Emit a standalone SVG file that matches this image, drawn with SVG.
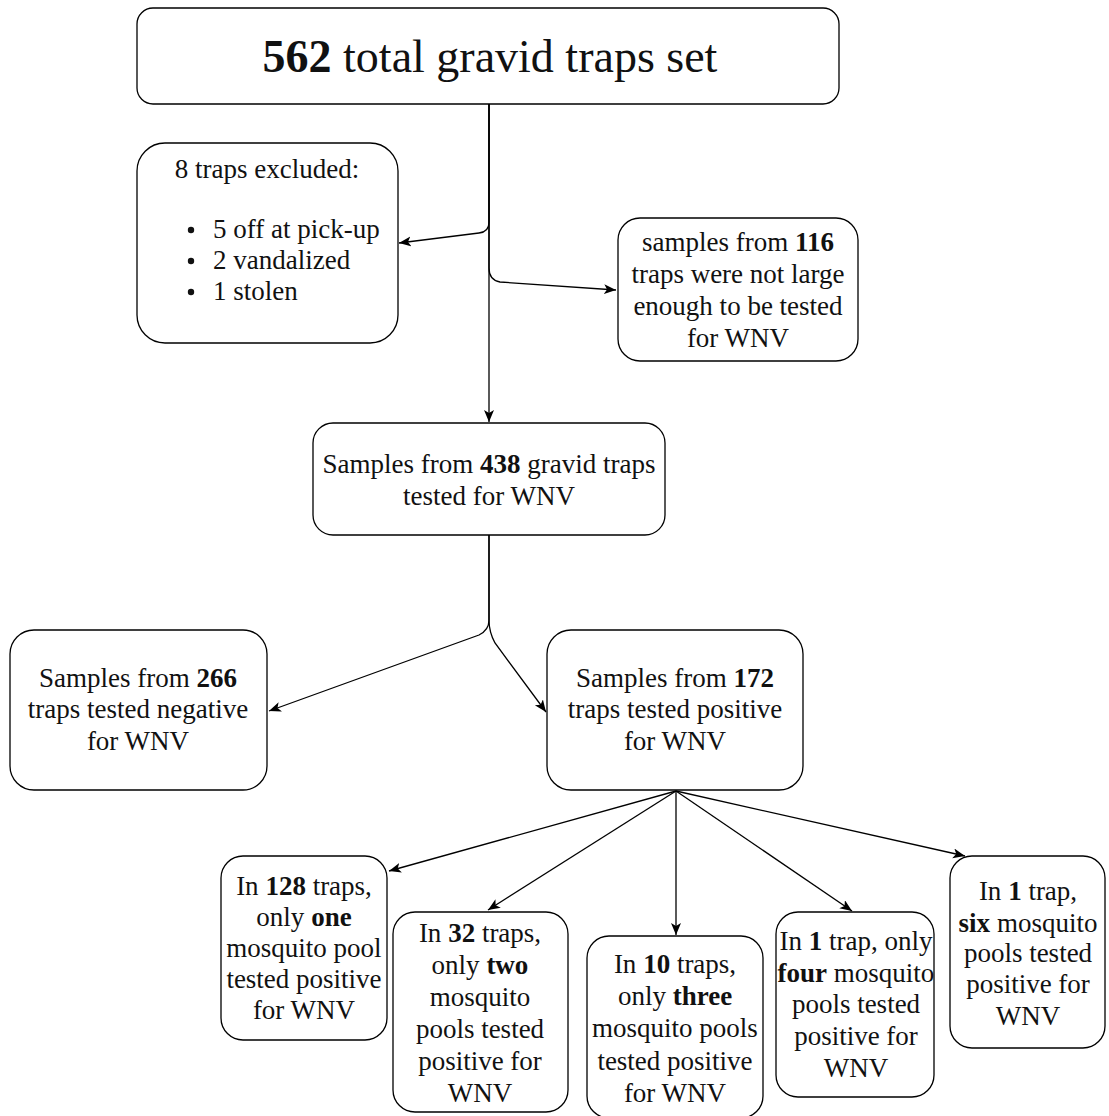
<svg xmlns="http://www.w3.org/2000/svg" width="1109" height="1116" viewBox="0 0 1109 1116">
<style>
.box{fill:#fff;stroke:#000;stroke-width:1.3}
.t{font-family:"Liberation Serif","Times New Roman",serif;font-size:27px;fill:#111;text-anchor:middle}
.tl{font-family:"Liberation Serif","Times New Roman",serif;font-size:27px;fill:#111}
.b{font-weight:bold}
.edge{fill:none;stroke:#000;stroke-width:1.3;marker-end:url(#arr)}
</style>
<defs>
<marker id="arr" markerUnits="userSpaceOnUse" markerWidth="14" markerHeight="12" refX="12" refY="5" orient="auto">
<path d="M0,0 L12,5 L0,10 L3,5 z" fill="#000"/>
</marker>
</defs>
<rect width="1109" height="1116" fill="#fff"/>
<g id="connectors">
<path class="edge" d="M489,104 L489,422"/>
<path class="edge" d="M489,104 L489,222 Q489,232 479,233 L399,243"/>
<path class="edge" d="M489,104 L489,268 Q489,280 500,282 L616,290"/>
<path class="edge" d="M489,535 L489,620 Q489,630 479,635 L269,711"/>
<path class="edge" d="M489,535 L489,620 Q489,632 495,643 L546,712"/>
<path class="edge" d="M676,791 L389,871"/>
<path class="edge" d="M676,791 L488,910"/>
<path class="edge" d="M676,791 L676,935"/>
<path class="edge" d="M676,791 L852,911"/>
<path class="edge" d="M676,791 L965,856"/>
</g>
<g id="node-total">
<rect class="box" x="137" y="8" width="702" height="96" rx="16"/>
<text class="t" x="490" y="72" style="font-size:46px"><tspan class="b">562</tspan> total gravid traps set</text>
</g>
<g id="node-excluded">
<rect class="box" x="137" y="143" width="261" height="200" rx="28"/>
<text class="t" x="267" y="178">8 traps excluded:</text>
<circle cx="191" cy="230" r="3.2" fill="#111"/>
<circle cx="191" cy="261" r="3.2" fill="#111"/>
<circle cx="191" cy="292" r="3.2" fill="#111"/>
<text class="tl" x="213" y="238">5 off at pick-up</text>
<text class="tl" x="213" y="269">2 vandalized</text>
<text class="tl" x="213" y="300">1 stolen</text>
</g>
<g id="node-small">
<rect class="box" x="618" y="218" width="240" height="143" rx="22"/>
<text class="t" x="738" y="251">samples from <tspan class="b">116</tspan></text>
<text class="t" x="738" y="283">traps were not large</text>
<text class="t" x="738" y="315">enough to be tested</text>
<text class="t" x="738" y="347">for WNV</text>
</g>
<g id="node-438">
<rect class="box" x="313" y="423" width="352" height="112" rx="20"/>
<text class="t" x="489" y="473">Samples from <tspan class="b">438</tspan> gravid traps</text>
<text class="t" x="489" y="505">tested for WNV</text>
</g>
<g id="node-266">
<rect class="box" x="10" y="630" width="257" height="160" rx="24"/>
<text class="t" x="138" y="687">Samples from <tspan class="b">266</tspan></text>
<text class="t" x="138" y="718">traps tested negative</text>
<text class="t" x="138" y="750">for WNV</text>
</g>
<g id="node-172">
<rect class="box" x="547" y="630" width="256" height="160" rx="24"/>
<text class="t" x="675" y="687">Samples from <tspan class="b">172</tspan></text>
<text class="t" x="675" y="718">traps tested positive</text>
<text class="t" x="675" y="750">for WNV</text>
</g>
<g id="node-one">
<rect class="box" x="221" y="856" width="166" height="184" rx="22"/>
<text class="t" x="304" y="895">In <tspan class="b">128</tspan> traps,</text>
<text class="t" x="304" y="926">only <tspan class="b">one</tspan></text>
<text class="t" x="304" y="957">mosquito pool</text>
<text class="t" x="304" y="988">tested positive</text>
<text class="t" x="304" y="1019">for WNV</text>
</g>
<g id="node-two">
<rect class="box" x="393" y="912" width="175" height="200" rx="22"/>
<text class="t" x="480" y="942">In <tspan class="b">32</tspan> traps,</text>
<text class="t" x="480" y="974">only <tspan class="b">two</tspan></text>
<text class="t" x="480" y="1006">mosquito</text>
<text class="t" x="480" y="1038">pools tested</text>
<text class="t" x="480" y="1070">positive for</text>
<text class="t" x="480" y="1102">WNV</text>
</g>
<g id="node-three">
<rect class="box" x="587" y="936" width="176" height="182" rx="22"/>
<text class="t" x="675" y="973">In <tspan class="b">10</tspan> traps,</text>
<text class="t" x="675" y="1005">only <tspan class="b">three</tspan></text>
<text class="t" x="675" y="1037">mosquito pools</text>
<text class="t" x="675" y="1070">tested positive</text>
<text class="t" x="675" y="1102">for WNV</text>
</g>
<g id="node-four">
<rect class="box" x="776" y="912" width="158" height="185" rx="22"/>
<text class="t" x="856" y="950">In <tspan class="b">1</tspan> trap, only</text>
<text class="t" x="856" y="982"><tspan class="b">four</tspan> mosquito</text>
<text class="t" x="856" y="1013">pools tested</text>
<text class="t" x="856" y="1045">positive for</text>
<text class="t" x="856" y="1077">WNV</text>
</g>
<g id="node-six">
<rect class="box" x="950" y="856" width="155" height="192" rx="22"/>
<text class="t" x="1028" y="900">In <tspan class="b">1</tspan> trap,</text>
<text class="t" x="1028" y="932"><tspan class="b">six</tspan> mosquito</text>
<text class="t" x="1028" y="962">pools tested</text>
<text class="t" x="1028" y="993">positive for</text>
<text class="t" x="1028" y="1025">WNV</text>
</g>
</svg>
